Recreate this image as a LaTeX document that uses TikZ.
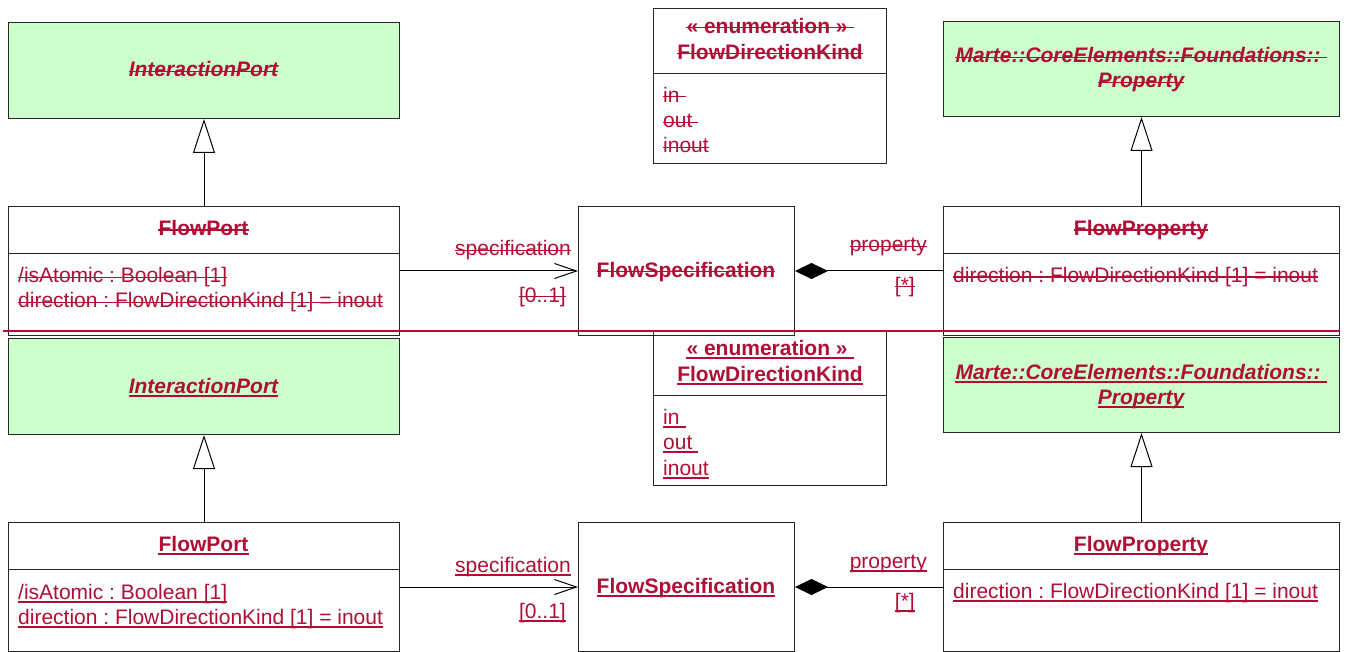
\documentclass[tikz,border=0pt]{standalone}
\usepackage{fontspec}
\setmainfont{Liberation Sans}
\usetikzlibrary{arrows.meta}

\definecolor{chg}{RGB}{176,14,52}
\definecolor{absgreen}{RGB}{204,255,204}

\tikzset{
    box/.style={draw=black!85, line width=1pt, rectangle, anchor=north west, inner sep=0pt},
    absbox/.style={box, fill=absgreen},
    txt/.style={inner sep=0pt, text=chg, font=\fontsize{21}{25}\selectfont\frenchspacing},
    del/.style={txt, append after command={\pgfextra{\let\LN\tikzlastnode
        \draw[chg, line width=1.2pt] ([yshift=5.5pt]\LN.base west) -- ([yshift=5.5pt]\LN.base east);}}},
    ins/.style={txt, append after command={\pgfextra{\let\LN\tikzlastnode
        \draw[chg, line width=2pt] ([yshift=-2.5pt]\LN.base west) -- ([yshift=-2.5pt]\LN.base east);}}},
    gen/.style={line width=1pt, -{Triangle[open, length=34pt, width=22pt]}},
    assoc/.style={line width=1pt, -{Straight Barb[length=22pt, width=15pt]}},
    comp/.style={line width=1pt, {Diamond[length=33pt, width=16pt]}-}
}

\begin{document}
\begin{tikzpicture}[x=1pt, y=-1pt]
    \clip (0,0) rectangle (1346,652);

    % t = deleted version (struck out), b = inserted version (underlined)
    \foreach \h/\dy/\de/\mk in {t/0/0/del, b/316/322/ins} {
        \begin{scope}[yshift=-\dy pt]
            % classes
            \node[absbox, minimum width=391pt, minimum height=96pt] (\h ip) at (8,22) {};
            \node[box, minimum width=391pt, minimum height=47pt] (\h fp) at (8,206) {};
            \node[box, minimum width=391pt, minimum height=82pt] (\h fpa) at (8,253) {};
            \node[box, minimum width=216pt, minimum height=129pt] (\h fs) at (578,206) {};
            \node[absbox, minimum width=396pt, minimum height=95pt] (\h marte) at (943,21) {};
            \node[box, minimum width=396pt, minimum height=47pt] (\h fpr) at (943,206) {};
            \node[box, minimum width=396pt, minimum height=82pt] (\h fpra) at (943,253) {};

            % texts
            \node[\mk, anchor=base] (\h ipname) at (203.5,77) {\bfseries\itshape InteractionPort};
            \node[\mk, anchor=base] (\h fpname) at (203.5,235.5) {\bfseries FlowPort};
            \node[\mk, anchor=base west] (\h fpatom) at (18,283) {/isAtomic : Boolean [1]};
            \node[\mk, anchor=base west] (\h fpdir) at (18,308) {direction : FlowDirectionKind [1] = inout};
            \node[\mk, anchor=base] (\h fsname) at (686,277) {\bfseries FlowSpecification};
            \node[\mk, anchor=base] (\h marteA) at (1141,63) {\bfseries\itshape Marte::CoreElements::Foundations::\ \mbox{}};
            \node[\mk, anchor=base] (\h marteB) at (1141,88) {\bfseries\itshape Property};
            \node[\mk, anchor=base] (\h fprname) at (1141,235.5) {\bfseries FlowProperty};
            \node[\mk, anchor=base west] (\h fprdir) at (953,282.5) {direction : FlowDirectionKind [1] = inout};

            % connectors
            \draw[gen] (\h fp.north) -- (\h ip.south);
            \draw[gen] (\h fpr.north) -- (\h marte.south);
            \draw[assoc] (\h fpa.east |- \h fs.west) -- (\h fs.west);
            \draw[comp] (\h fs.east) -- (\h fs.east -| \h fpra.west);

            % association ends
            \node[\mk, anchor=base east] (\h spec) at (571,256) {specification};
            \node[\mk, anchor=base east] (\h specm) at (566,302) {[0..1]};
            \node[\mk, anchor=base east] (\h prop) at (927,252) {property};
            \node[\mk, anchor=base east] (\h propm) at (915,292) {[*]};
        \end{scope}

        \begin{scope}[yshift=-\de pt]
            % enumeration
            \node[box, minimum width=233pt, minimum height=65pt] (\h en) at (653,8) {};
            \node[box, minimum width=233pt, minimum height=90pt] (\h enl) at (653,73) {};
            \node[\mk, anchor=base] (\h enst) at (770,33.3) {\bfseries « enumeration »\ \mbox{}};
            \node[\mk, anchor=base] (\h enname) at (770,59.3) {\bfseries FlowDirectionKind};
            \node[\mk, anchor=base west] (\h lin) at (663,102.3) {in\ \mbox{}};
            \node[\mk, anchor=base west] (\h lout) at (663,127.7) {out\ \mbox{}};
            \node[\mk, anchor=base west] (\h linout) at (663,153) {inout};
        \end{scope}
    }

    % border between the two versions
    \draw[chg, line width=2pt] (3,331) -- (1340,331);
\end{tikzpicture}
\end{document}
